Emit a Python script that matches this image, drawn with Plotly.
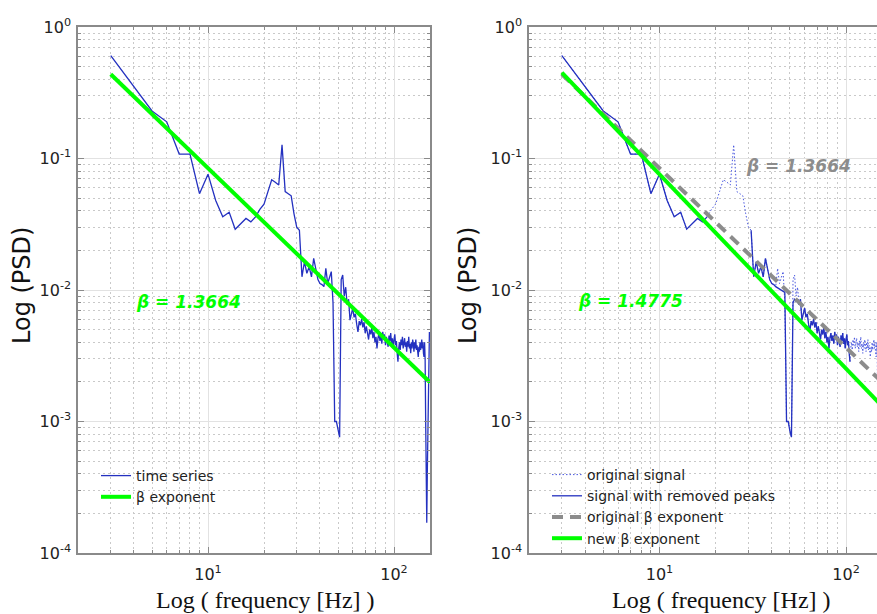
import plotly.graph_objects as go

# ---------------- data ----------------
freq_hz = list(range(3, 156))  # 1 Hz bins, 3 .. 155 Hz

psd_original = [
    0.605, 0.35, 0.23, 0.19, 0.108, 0.108, 0.054, 0.076, 0.048, 0.036,      # 3-12
    0.039, 0.029, 0.032, 0.035, 0.033, 0.036, 0.041, 0.045, 0.056, 0.069,   # 13-22
    0.066, 0.063, 0.127, 0.056, 0.054, 0.052, 0.038, 0.030, 0.0285, 0.0126, # 23-32
    0.0164, 0.0134, 0.0150, 0.0126, 0.0174, 0.0142, 0.0120, 0.0112, 0.0110, 0.0106,  # 33-42
    0.0146, 0.0112, 0.0125, 0.0138, 0.0080, 0.0010, 0.0010, 0.00085, 0.00076, 0.0120,  # 43-52
    0.0130, 0.0090, 0.0105, 0.0077, 0.0085, 0.0059, 0.0068, 0.0073, 0.0062, 0.0066,  # 53-62
    0.0055, 0.0048, 0.0058, 0.0054, 0.0060, 0.0052, 0.0057, 0.0047, 0.0053, 0.0045,  # 63-72
    0.0042, 0.0050, 0.0046, 0.0052, 0.0043, 0.0048, 0.0040, 0.0044, 0.0036, 0.0043,  # 73-82
    0.0047, 0.0041, 0.0045, 0.0039, 0.0048, 0.0042, 0.0046, 0.0038, 0.0044, 0.0040,  # 83-92
    0.0037, 0.0045, 0.0041, 0.0047, 0.0039, 0.0043, 0.0036, 0.0042, 0.0046, 0.0038,  # 93-102
    0.0041, 0.0033, 0.00285, 0.0036, 0.0040, 0.0035, 0.0042, 0.0038, 0.0044, 0.0036,  # 103-112
    0.0041, 0.0043, 0.0037, 0.0040, 0.0034, 0.0041, 0.0037, 0.0044, 0.0036, 0.0039,  # 113-122
    0.0033, 0.0040, 0.0036, 0.0042, 0.0039, 0.0034, 0.0040, 0.0036, 0.0042, 0.0035,  # 123-132
    0.0038, 0.0033, 0.0031, 0.0037, 0.0034, 0.0040, 0.0035, 0.0038, 0.0042, 0.0036,  # 133-142
    0.0040, 0.0033, 0.0031, 0.0040, 0.0030, 0.0010, 0.0004, 0.00017, 0.0004, 0.0009,  # 143-152
    0.0019, 0.0035, 0.0048,                                                      # 153-155
]

psd_removed_peaks = [
    0.605, 0.35, 0.23, 0.19, 0.108, 0.108, 0.054, 0.076, 0.048, 0.036,      # 3-12
    0.039, 0.029, 0.032, 0.035, 0.033, 0.036, None, None, None, None,       # 13-22
    None, None, None, None, None, None, None, None, 0.0285, 0.0126,          # 23-32
    0.0164, 0.0134, 0.0150, 0.0126, 0.0174, 0.0142, 0.0120, 0.0112, 0.0110, 0.0106,  # 33-42
    0.0104, 0.0102, 0.0100, 0.0098, 0.0096, 0.0010, 0.0010, 0.00085, 0.00076, 0.0080,  # 43-52
    0.0085, 0.0082, 0.0084, 0.0077, 0.0085, 0.0059, 0.0068, 0.0073, 0.0062, 0.0066,  # 53-62
    0.0055, 0.0048, 0.0058, 0.0054, 0.0060, 0.0052, 0.0057, 0.0047, 0.0053, 0.0045,  # 63-72
    0.0042, 0.0050, 0.0046, 0.0052, 0.0043, 0.0048, 0.0040, 0.0044, 0.0036, 0.0043,  # 73-82
    0.0047, 0.0041, 0.0045, 0.0039, 0.0048, 0.0042, 0.0046, 0.0038, 0.0044, 0.0040,  # 83-92
    0.0037, 0.0045, 0.0041, 0.0047, 0.0039, 0.0043, 0.0036, 0.0042, 0.0046, 0.0038,  # 93-102
    0.0041, 0.0033, 0.00285, None, None, None, None, None, None, None,          # 103-112
    None, None, None, None, None, None, None, None, None, None,                 # 113-122
    None, None, None, None, None, None, None, None, None, None,                 # 123-132
    None, None, None, None, None, None, None, None, None, None,                 # 133-142
    None, None, None, None, None, None, None, None, None, None,                 # 143-152
    None, None, None,                                                           # 153-155
]

fit_freq_hz = [3, 156]
fit_original_psd = [0.437, 0.00199]   # beta = 1.3664
fit_new_psd = [0.449, 0.00131]        # beta = 1.4775
beta_original_label = "β = 1.3664"
beta_new_label = "β = 1.4775"

y_tick_vals = [1, 0.1, 0.01, 0.001, 0.0001]
y_tick_exp = ["0", "-1", "-2", "-3", "-4"]
x_tick_vals = [10, 100]
x_tick_exp = ["1", "2"]

# ---------------- styling ----------------
BLUE = "#2431c0"
GREEN = "#00ff00"
GREY = "#8c8c8c"
AXIS = "#8a8a8a"
TICKFONT = dict(family="DejaVu Sans", size=16, color="#222222")


def sup_label(exp):
    return "10<sup>%s</sup>" % exp


y_tick_text = [sup_label(e) for e in y_tick_exp]
x_tick_text = [sup_label(e) for e in x_tick_exp]

x_minor = [m * d for d in (1, 10, 100) for m in range(2, 10)]
y_minor = [m * d for d in (1e-4, 1e-3, 1e-2, 1e-1) for m in range(2, 10)]

W, H = 877, 614


def px_x(p):
    return p / W


def px_y(p):
    return 1 - p / H


def axis_common(minor_vals):
    return dict(
        type="log",
        showline=True, linecolor=AXIS, linewidth=1.5,
        ticks="inside", ticklen=6, tickcolor=AXIS, tickwidth=1,
        showgrid=True, gridcolor="#e2e2e2", gridwidth=1.3,
        zeroline=False, automargin=False,
        tickfont=TICKFONT, tickmode="array",
        minor=dict(tickmode="array", tickvals=minor_vals, ticks="inside",
                   ticklen=3, tickcolor=AXIS, showgrid=True,
                   gridcolor="#c9c9c9", griddash="2px,3px", gridwidth=1),
    )


fig = go.Figure()

# left panel
fig.add_trace(go.Scatter(x=freq_hz, y=psd_original, mode="lines", name="time series",
                         line=dict(color=BLUE, width=1.3), xaxis="x", yaxis="y",
                         legend="legend"))
fig.add_trace(go.Scatter(x=fit_freq_hz, y=fit_original_psd, mode="lines", name="β exponent",
                         line=dict(color=GREEN, width=4), xaxis="x", yaxis="y",
                         legend="legend"))

# right panel
fig.add_trace(go.Scatter(x=freq_hz, y=psd_original, mode="lines", name="original signal",
                         line=dict(color="#4a58e0", width=1, dash="1.5px,2px"),
                         xaxis="x2", yaxis="y2", legend="legend2"))
fig.add_trace(go.Scatter(x=freq_hz, y=psd_removed_peaks, mode="lines",
                         name="signal with removed peaks",
                         line=dict(color=BLUE, width=1.3), xaxis="x2", yaxis="y2",
                         legend="legend2"))
fig.add_trace(go.Scatter(x=fit_freq_hz, y=fit_original_psd, mode="lines",
                         name="original β exponent",
                         line=dict(color=GREY, width=4, dash="11px,7px"),
                         xaxis="x2", yaxis="y2", legend="legend2"))
fig.add_trace(go.Scatter(x=fit_freq_hz, y=fit_new_psd, mode="lines", name="new β exponent",
                         line=dict(color=GREEN, width=4), xaxis="x2", yaxis="y2",
                         legend="legend2"))

xa1 = axis_common(x_minor)
xa1.update(domain=[px_x(78), px_x(430)], range=[0.30103, 2.1935], anchor="y",
           tickvals=x_tick_vals, ticktext=x_tick_text, mirror="ticks",
           ticklabelstandoff=6)
ya1 = axis_common(y_minor)
ya1.update(domain=[px_y(553), px_y(27)], range=[-4, 0], anchor="x",
           tickvals=y_tick_vals, ticktext=y_tick_text, mirror="ticks",
           ticklabelstandoff=2)
xa2 = axis_common(x_minor)
xa2.update(domain=[px_x(529), 1.0], range=[0.30103, 2.166], anchor="y2",
           tickvals=x_tick_vals, ticktext=x_tick_text, mirror="ticks",
           ticklabelstandoff=6)
ya2 = axis_common(y_minor)
ya2.update(domain=[px_y(553), px_y(27)], range=[-4, 0], anchor="x2",
           tickvals=y_tick_vals, ticktext=y_tick_text, mirror=False,
           ticklabelstandoff=2)

legend_common = dict(xanchor="left", yanchor="top", bgcolor="rgba(0,0,0,0)",
                     borderwidth=0, tracegroupgap=0,
                     font=dict(family="DejaVu Sans", size=14, color="#222222"))


def note(text, xp, yp, font, angle=0):
    return dict(text=text, x=px_x(xp), y=px_y(yp), xref="paper", yref="paper",
                xanchor="center", yanchor="middle", showarrow=False,
                textangle=angle, font=font)


BETA_FONT_G = dict(family="DejaVu Sans", size=17, color=GREEN)
BETA_FONT_K = dict(family="DejaVu Sans", size=17, color=GREY)
YT_FONT = dict(family="DejaVu Sans", size=24, color="#111111")
XT_FONT = dict(family="Liberation Serif", size=24, color="#111111")

fig.update_layout(
    width=W, height=H,
    margin=dict(l=0, r=0, t=0, b=0),
    paper_bgcolor="white", plot_bgcolor="white",
    xaxis=xa1, yaxis=ya1, xaxis2=xa2, yaxis2=ya2,
    showlegend=True,
    legend=dict(x=px_x(96), y=px_y(460), **legend_common),
    legend2=dict(x=px_x(547), y=px_y(459), **legend_common),
    annotations=[
        note("<b><i>%s</i></b>" % beta_original_label, 188, 302, BETA_FONT_G),
        note("<b><i>%s</i></b>" % beta_new_label, 630, 301, BETA_FONT_G),
        note("<b><i>%s</i></b>" % beta_original_label, 798, 166, BETA_FONT_K),
        note("Log (PSD)", 22, 286, YT_FONT, -90),
        note("Log (PSD)", 468, 286, YT_FONT, -90),
        note("Log ( frequency [Hz] )", 265, 600, XT_FONT),
        note("Log ( frequency [Hz] )", 721, 600, XT_FONT),
    ],
)

fig.write_html("out.html")
